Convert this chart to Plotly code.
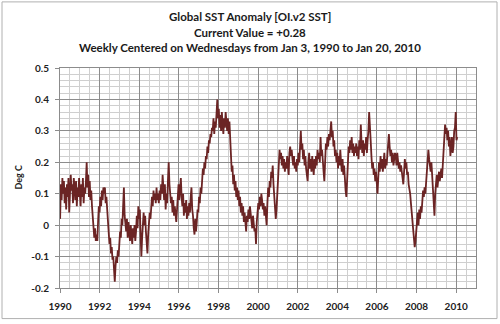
import datetime as dt
import plotly.graph_objects as go

# Bi-weekly global SST anomaly (deg C), one list per year
y1990 = [0.02, 0.13, 0.08, 0.15, 0.10, 0.14, 0.07, 0.12, 0.05, 0.13, 0.09, 0.15, 0.04, 0.10, 0.16, 0.11, 0.13, 0.07, 0.15, 0.12, 0.08, 0.14, 0.06, 0.12, 0.09, 0.15]
y1991 = [0.11, 0.06, 0.13, 0.09, 0.15, 0.07, 0.12, 0.10, 0.14, 0.20, 0.12, 0.16, 0.09, 0.14, 0.08, 0.11, 0.06, 0.02, -0.02, -0.04, -0.01, -0.05, -0.03, -0.05, 0.01, 0.06]
y1992 = [0.04, 0.09, 0.06, 0.11, 0.08, 0.12, 0.10, 0.12, 0.07, 0.09, 0.05, 0.02, -0.03, -0.06, -0.04, -0.09, -0.07, -0.11, -0.10, -0.14, -0.18, -0.13, -0.10, -0.12, -0.08, -0.10]
y1993 = [-0.06, -0.02, -0.04, 0.02, 0.00, 0.05, 0.12, 0.03, 0.01, -0.02, 0.02, -0.04, 0.01, -0.03, -0.05, 0.00, -0.02, -0.06, -0.01, -0.04, 0.00, -0.05, -0.02, 0.03, -0.01, 0.06]
y1994 = [0.02, 0.05, -0.03, -0.10, -0.04, 0.02, 0.04, 0.00, 0.03, -0.02, -0.05, -0.09, -0.03, 0.00, 0.04, 0.02, 0.07, 0.09, 0.06, 0.11, 0.08, 0.10, 0.07, 0.12, 0.08, 0.10]
y1995 = [0.07, 0.11, 0.08, 0.13, 0.10, 0.16, 0.12, 0.08, 0.13, 0.05, 0.10, 0.07, 0.14, 0.20, 0.13, 0.10, 0.07, 0.09, 0.04, 0.08, 0.03, 0.06, 0.02, 0.01, 0.05, 0.09]
y1996 = [0.13, 0.08, 0.11, 0.15, 0.09, 0.06, 0.10, 0.03, 0.07, 0.04, 0.08, 0.02, 0.06, 0.03, 0.07, 0.04, 0.09, 0.12, 0.05, 0.03, -0.01, -0.03, 0.02, -0.02, 0.01, 0.05]
y1997 = [0.04, 0.09, 0.07, 0.12, 0.10, 0.15, 0.18, 0.16, 0.20, 0.18, 0.22, 0.21, 0.25, 0.23, 0.27, 0.26, 0.29, 0.28, 0.31, 0.30, 0.34, 0.29, 0.33, 0.31, 0.35, 0.40]
y1998 = [0.34, 0.37, 0.31, 0.35, 0.30, 0.36, 0.32, 0.29, 0.34, 0.31, 0.36, 0.33, 0.30, 0.34, 0.29, 0.33, 0.26, 0.20, 0.17, 0.19, 0.13, 0.16, 0.11, 0.14, 0.09, 0.12]
y1999 = [0.08, 0.11, 0.06, 0.09, 0.04, 0.07, 0.03, 0.06, 0.01, 0.04, 0.00, -0.02, 0.03, 0.01, 0.05, 0.02, 0.06, 0.04, 0.02, -0.01, 0.03, 0.00, -0.02, -0.01, -0.06, 0.01]
y2000 = [0.04, 0.07, 0.05, 0.09, 0.06, 0.10, 0.08, 0.05, 0.07, 0.03, 0.06, 0.02, 0.00, 0.07, 0.12, 0.09, 0.14, 0.12, 0.17, 0.15, 0.19, 0.13, 0.10, 0.06, 0.02, 0.05]
y2001 = [0.09, 0.14, 0.18, 0.24, 0.21, 0.23, 0.19, 0.22, 0.18, 0.21, 0.17, 0.20, 0.18, 0.22, 0.19, 0.16, 0.23, 0.25, 0.22, 0.24, 0.21, 0.19, 0.22, 0.18, 0.20, 0.17]
y2002 = [0.21, 0.19, 0.23, 0.20, 0.25, 0.30, 0.24, 0.26, 0.21, 0.24, 0.19, 0.22, 0.18, 0.16, 0.14, 0.20, 0.23, 0.18, 0.21, 0.17, 0.22, 0.19, 0.16, 0.21, 0.18, 0.22]
y2003 = [0.19, 0.24, 0.21, 0.23, 0.20, 0.28, 0.22, 0.24, 0.19, 0.17, 0.14, 0.20, 0.26, 0.24, 0.28, 0.25, 0.29, 0.27, 0.30, 0.33, 0.28, 0.30, 0.25, 0.27, 0.22, 0.24]
y2004 = [0.20, 0.23, 0.18, 0.22, 0.19, 0.24, 0.20, 0.17, 0.21, 0.16, 0.19, 0.14, 0.11, 0.09, 0.15, 0.22, 0.25, 0.23, 0.27, 0.24, 0.28, 0.23, 0.26, 0.22, 0.25, 0.23]
y2005 = [0.26, 0.22, 0.25, 0.21, 0.27, 0.24, 0.32, 0.26, 0.23, 0.27, 0.22, 0.26, 0.24, 0.28, 0.23, 0.27, 0.30, 0.36, 0.29, 0.27, 0.22, 0.18, 0.20, 0.16, 0.18, 0.14]
y2006 = [0.17, 0.12, 0.10, 0.15, 0.20, 0.17, 0.22, 0.18, 0.21, 0.17, 0.20, 0.23, 0.18, 0.21, 0.19, 0.24, 0.26, 0.29, 0.25, 0.22, 0.24, 0.20, 0.23, 0.19, 0.21, 0.23]
y2007 = [0.22, 0.19, 0.23, 0.21, 0.18, 0.20, 0.17, 0.19, 0.16, 0.15, 0.13, 0.17, 0.21, 0.18, 0.20, 0.16, 0.17, 0.13, 0.12, 0.10, 0.07, 0.04, 0.01, 0.00, -0.04, -0.07]
y2008 = [-0.05, -0.02, 0.01, 0.04, 0.00, 0.05, 0.02, 0.06, 0.04, 0.08, 0.11, 0.09, 0.12, 0.10, 0.14, 0.17, 0.20, 0.24, 0.21, 0.19, 0.17, 0.20, 0.15, 0.12, 0.09, 0.03]
y2009 = [0.10, 0.13, 0.16, 0.12, 0.15, 0.17, 0.14, 0.16, 0.18, 0.15, 0.19, 0.21, 0.26, 0.32, 0.29, 0.31, 0.27, 0.30, 0.25, 0.28, 0.22, 0.26, 0.28, 0.23, 0.25, 0.30]
y2010 = [0.31, 0.36, 0.27, 0.28]

start_date = "1990-01-03"
step_days = 14

y_tick_vals = [-0.2, -0.1, 0.0, 0.1, 0.2, 0.3, 0.4, 0.5]
y_tick_text = ["-0.2", "-0.1", "0", "0.1", "0.2", "0.3", "0.4", "0.5"]

title_lines = [
    "Global SST Anomaly [OI.v2 SST]",
    "Current Value = +0.28",
    "Weekly Centered on Wednesdays from Jan 3, 1990 to Jan 20, 2010",
]

values = (y1990 + y1991 + y1992 + y1993 + y1994 + y1995 + y1996 + y1997 + y1998 + y1999
          + y2000 + y2001 + y2002 + y2003 + y2004 + y2005 + y2006 + y2007 + y2008 + y2009 + y2010)
d0 = dt.date.fromisoformat(start_date)
dates = [d0 + dt.timedelta(days=step_days * i) for i in range(len(values))]

LINE = "#6b2424"
FONT = "Lato"

fig = go.Figure()
fig.add_trace(go.Scatter(x=dates, y=values, mode="lines",
                         line=dict(color=LINE, width=1.8), hoverinfo="skip"))

W, H = 500, 324
L, R, T, B = 60, 24, 68, 33
pw, ph = W - L - R, H - T - B

def px(x):
    return (x - L) / pw

def py(y):
    return (H - B - y) / ph

fig.update_layout(
    width=W, height=H,
    margin=dict(l=L, r=R, t=T, b=B),
    paper_bgcolor="white", plot_bgcolor="white",
    showlegend=False,
    xaxis=dict(
        type="date",
        range=["1990-01-01", "2011-01-01"],
        tick0="1990-01-01", dtick="M24", tickformat="%Y",
        showgrid=True, gridcolor="#8c8c8c", gridwidth=1,
        minor=dict(dtick="M6", showgrid=True, gridcolor="#cfcfcf", gridwidth=1),
        showline=True, linecolor="#8c8c8c", linewidth=1, mirror=True,
        ticks="outside", ticklen=4, tickcolor="#8c8c8c",
        ticklabelstandoff=5,
        tickfont=dict(family=FONT, size=10, color="#222222", weight="bold"),
        zeroline=False, fixedrange=True,
    ),
    yaxis=dict(
        range=[-0.2, 0.5],
        tickvals=y_tick_vals, ticktext=y_tick_text,
        showgrid=True, gridcolor="#8c8c8c", gridwidth=1,
        minor=dict(dtick=0.02, tick0=0, showgrid=True, gridcolor="#cfcfcf", gridwidth=1),
        showline=True, linecolor="#8c8c8c", linewidth=1, mirror=True,
        ticks="outside", ticklen=4, tickcolor="#8c8c8c",
        ticklabelstandoff=4,
        tickfont=dict(family=FONT, size=10, color="#222222", weight="bold"),
        zeroline=False, fixedrange=True,
    ),
)

title_y = [16, 32, 47]
for txt, yy in zip(title_lines, title_y):
    fig.add_annotation(text="<b>" + txt + "</b>", xref="paper", yref="paper",
                       x=px(250), y=py(yy), xanchor="center", yanchor="middle",
                       showarrow=False, font=dict(family=FONT, size=11.5, color="#1a1a1a"))

fig.add_annotation(text="<b>Deg C</b>", xref="paper", yref="paper",
                   x=px(19), y=py(179), textangle=-90, xanchor="center", yanchor="middle",
                   showarrow=False, font=dict(family=FONT, size=9, color="#1a1a1a"))

fig.add_shape(type="rect", xref="paper", yref="paper",
              x0=px(2), x1=px(497), y0=py(322), y1=py(1),
              line=dict(color="#b0b0b0", width=1), layer="below")

fig.write_html("out.html")
